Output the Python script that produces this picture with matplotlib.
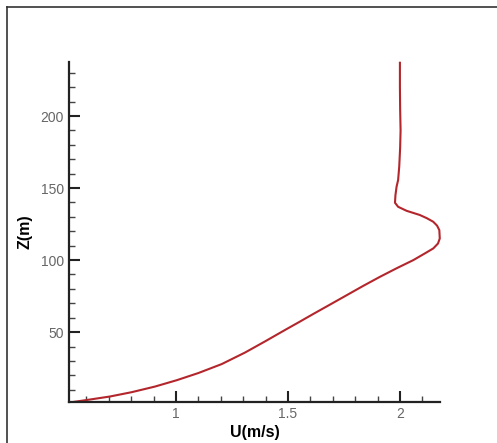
import matplotlib
matplotlib.use('Agg')
import matplotlib.pyplot as plt
from matplotlib.ticker import MultipleLocator
from matplotlib.lines import Line2D

plt.rcParams['font.family'] = ['Liberation Sans', 'DejaVu Sans']

# velocity profile
u = [0.545, 0.62, 0.705, 0.802, 0.906, 1.003, 1.1, 1.204, 1.308, 1.397, 1.487,
     1.55, 1.613, 1.69, 1.762, 1.835, 1.911, 1.985, 2.06, 2.11, 2.149, 2.17,
     2.178, 2.176, 2.166, 2.149, 2.12, 2.089, 2.03, 1.992, 1.978, 1.98,
     1.985, 1.992, 1.997, 2.001, 2.003, 2.001, 2.0, 2.0]
z = [1.6, 3.3, 5.3, 8.3, 12.2, 16.6, 21.6, 27.8, 35.8, 43.5, 51.5,
     57.0, 62.6, 69.3, 75.6, 82.0, 88.4, 94.3, 100, 104.5, 108.1, 111.5,
     115, 120.8, 123.9, 126.6, 129.1, 131.3, 134.2, 137, 139.8, 145,
     150.9, 155.6, 165, 178, 190, 205, 220, 237]

fig = plt.figure(figsize=(4.97, 4.43), dpi=100)
ax = fig.add_axes([0.1388, 0.0926, 0.7465, 0.7674])

ax.plot(u, z, color='#b3262c', lw=1.5, clip_on=False, solid_joinstyle='round')

ax.set_xlim(0.522, 2.179)
ax.set_ylim(1.5, 237.5)
ax.xaxis.set_major_locator(MultipleLocator(0.5))
ax.xaxis.set_minor_locator(MultipleLocator(0.1))
ax.yaxis.set_major_locator(MultipleLocator(50))
ax.yaxis.set_minor_locator(MultipleLocator(10))
ax.xaxis.set_major_formatter(plt.FuncFormatter(lambda v, p: '%g' % v))

for s in ['top', 'right']:
    ax.spines[s].set_visible(False)
for s in ['left', 'bottom']:
    ax.spines[s].set_linewidth(1.6)
    ax.spines[s].set_color('#222222')

ax.tick_params(which='major', direction='in', length=8, width=1.5, color='#222222',
               labelsize=10, labelcolor='#666666')
ax.tick_params(which='minor', direction='in', length=4.5, width=1.0, color='#444444')

ax.set_xlabel('U(m/s)', fontsize=11.5, fontweight='bold', labelpad=3)
ax.set_ylabel('Z(m)', fontsize=11.5, fontweight='bold', labelpad=6)

# frame of the screenshot box
fig.add_artist(Line2D([0.014, 0.014], [0, 0.984], color='#333333', lw=1.2))
fig.add_artist(Line2D([0.014, 1.0], [0.984, 0.984], color='#333333', lw=1.2))

fig.savefig('out.png', dpi=100)
